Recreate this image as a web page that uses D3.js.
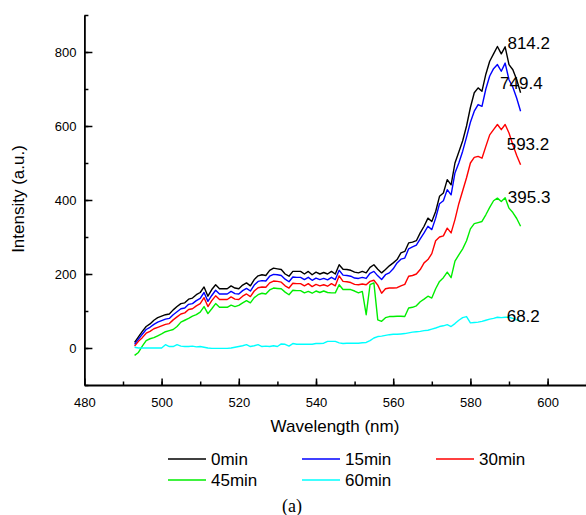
<!DOCTYPE html>
<html><head><meta charset="utf-8">
<script src="https://cdn.jsdelivr.net/npm/d3@7"></script>
<style>
body{margin:0;background:#fff;}
</style></head>
<body><svg id="c" width="586" height="515" font-family="Arial,'Liberation Sans',sans-serif"></svg>
<script>
const wavelengths = d3.range(493, 594);
const seriesNames = ["0min","15min","30min","45min","60min"];
const seriesColors = ["#000000","#0000ff","#ff0000","#00ee00","#00ffff"];
const v0min = [15,30,45,58,65,75,82,86,90,92,103,112,120,122,132,135,144,150,165,140,158,171,160,160,160,168,162,160,170,176,168,185,195,198,196,210,216,214,212,200,194,207,207,207,200,207,198,205,200,204,200,207,200,225,213,212,210,205,203,207,203,218,225,213,203,212,222,230,239,257,261,284,286,290,311,329,351,342,369,410,419,455,441,500,530,560,600,650,690,703,694,740,775,795,815,795,814,766,752,725,690];
const v15min = [10,24,37,50,56,64,70,74,78,80,90,98,106,108,118,120,128,134,150,126,142,156,146,146,146,153,147,146,155,161,154,170,180,182,181,194,199,198,196,186,179,192,191,191,185,191,183,189,185,188,184,191,185,210,197,196,194,189,188,191,188,202,207,195,185,198,203,214,230,240,243,268,273,278,295,311,329,320,351,390,398,428,414,473,500,532,570,610,640,658,653,700,735,755,766,748,770,725,705,675,640];
const v30min = [5,18,28,40,45,52,56,60,64,66,76,84,92,95,104,106,114,120,136,112,128,141,131,131,131,138,132,131,140,146,139,154,163,165,164,176,181,180,178,168,162,175,174,174,168,174,166,172,168,171,167,174,168,195,180,179,177,172,171,173,171,180,183,170,148,160,162,162,163,168,172,194,196,200,212,230,239,255,290,300,303,324,311,347,390,425,460,500,515,518,513,545,576,590,604,590,604,581,549,520,495];
const v45min = [-20,-12,5,20,25,28,33,38,44,47,50,58,70,75,80,86,90,97,112,93,106,120,110,110,110,116,112,115,122,128,122,136,144,148,146,157,162,161,160,151,144,156,155,155,149,153,148,154,150,154,150,149,149,171,158,158,158,154,149,153,90,171,176,76,72,82,85,85,86,86,85,108,110,114,125,132,140,135,160,180,190,205,190,235,252,268,290,322,336,339,342,360,380,398,405,396,406,378,366,350,329];
const v60min = [2,0,0,0,0,0,0,0,9,4,4,9,5,4,4,5,3,4,2,0,-1,-1,-1,-1,-1,0,2,4,6,9,4,6,9,4,5,4,6,4,11,10,5,12,10,10,10,10,10,12,12,13,18,18,18,14,12,13,13,13,13,14,15,20,27,31,32,34,36,37,37,38,39,41,43,44,45,47,48,51,54,58,60,63,58,66,75,82,85,68,69,70,72,75,78,80,83,82,83,83,80,76,72];
const seriesValues = [v0min, v15min, v30min, v45min, v60min];
const peakLabels = ["814.2","749.4","593.2","395.3","68.2"];
const peakLabelPos = [[589.6,809],[587.7,700],[589.4,536],[589.7,392],[589.4,69]];
const xMajorTicks = d3.range(480, 601, 20);
const xMinorTicks = d3.range(490, 611, 10);
const yMajorTicks = d3.range(0, 801, 200);
const yMinorTicks = d3.range(-100, 901, 100);

const sans = "Arial,'Liberation Sans',sans-serif";
const svg = d3.select("#c");
const x = d3.scaleLinear().domain([480, 610]).range([84.4, 586.2]);
const y = d3.scaleLinear().domain([-100, 900]).range([385, 15]);

// minor ticks
svg.append("g").attr("transform","translate(0,385)")
  .call(d3.axisBottom(x).tickValues(xMinorTicks).tickFormat("").tickSizeInner(-3.5).tickSizeOuter(0))
  .call(g=>g.select(".domain").remove())
  .selectAll("line").attr("stroke","#000").attr("stroke-width",1.5);
svg.append("g").attr("transform","translate(84.4,0)")
  .call(d3.axisLeft(y).tickValues(yMinorTicks).tickFormat("").tickSizeInner(-4).tickSizeOuter(0))
  .call(g=>g.select(".domain").remove())
  .selectAll("line").attr("stroke","#000").attr("stroke-width",1.5);

// major axes
const gx = svg.append("g").attr("transform","translate(0,385)")
  .call(d3.axisBottom(x).tickValues(xMajorTicks).tickFormat(d3.format("d")).tickSizeInner(-6.5).tickSizeOuter(0).tickPadding(10));
gx.select(".domain").attr("stroke","#000").attr("stroke-width",1.8);
gx.selectAll("line").attr("stroke","#000").attr("stroke-width",1.5);
gx.selectAll("text").attr("font-size",13).attr("fill","#000").attr("font-family",sans).attr("dy","0.9em");

const gy = svg.append("g").attr("transform","translate(84.4,0)")
  .call(d3.axisLeft(y).tickValues(yMajorTicks).tickFormat(d3.format("d")).tickSizeInner(-8).tickSizeOuter(0).tickPadding(8));
gy.select(".domain").attr("stroke","#000").attr("stroke-width",1.8);
gy.selectAll("line").attr("stroke","#000").attr("stroke-width",1.5);
gy.selectAll("text").attr("font-size",13).attr("fill","#000").attr("font-family",sans);

// lines
const line = d3.line().x((d,i)=>x(wavelengths[i])).y(d=>y(d));
seriesValues.forEach((vals,k)=>{
  svg.append("path").datum(vals).attr("d",line)
    .attr("fill","none").attr("stroke",seriesColors[k]).attr("stroke-width",1.4)
    .attr("stroke-linejoin","round");
});

// peak labels
peakLabels.forEach((t,k)=>{
  svg.append("text").attr("x",x(peakLabelPos[k][0])).attr("y",y(peakLabelPos[k][1]))
    .attr("font-size",17).attr("fill","#000").text(t);
});

// axis titles
svg.append("text").attr("x",335).attr("y",432).attr("text-anchor","middle")
  .attr("font-size",17).text("Wavelength (nm)");
svg.append("text").attr("transform","translate(24,199) rotate(-90)").attr("text-anchor","middle")
  .attr("font-size",17).text("Intensity (a.u.)");

// legend
const legendPos = [[168,459],[302,459],[436,459],[168,480],[302,480]];
seriesNames.forEach((n,k)=>{
  const [lx,ly] = legendPos[k];
  svg.append("line").attr("x1",lx).attr("x2",lx+38).attr("y1",ly).attr("y2",ly)
    .attr("stroke",seriesColors[k]).attr("stroke-width",1.5);
  svg.append("text").attr("x",lx+43).attr("y",ly+6).attr("font-size",17).text(n);
});
svg.append("text").attr("x",292).attr("y",512).attr("text-anchor","middle")
  .attr("font-family","'Liberation Serif','Times New Roman',serif").attr("font-size",18).text("(a)");
</script></body></html>
